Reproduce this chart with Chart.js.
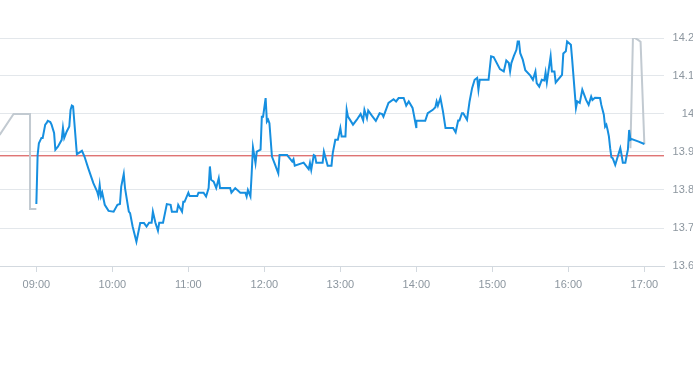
<!DOCTYPE html>
<html>
<head>
<meta charset="utf-8">
<script src="https://cdn.jsdelivr.net/npm/chart.js@4/dist/chart.umd.min.js"></script>
<style>
  html, body { margin: 0; padding: 0; background: #fff; overflow: hidden; }
  #wrap { position: relative; width: 700px; height: 296px; }
</style>
</head>
<body>
<div id="wrap"><canvas id="chart"></canvas></div>
<script>
// pre-market (grey)
const preTimes = ["08:31", "08:42", "08:55", "08:55", "09:00"];
const prePrices = [13.945, 14.0, 14.0, 13.75, 13.75];

// regular session (blue)
const times = [
  "09:00","09:01","09:02","09:04","09:05","09:07","09:08","09:09","09:11","09:12",
  "09:14","09:15","09:17","09:20","09:21","09:22","09:24","09:26","09:27","09:28",
  "09:29","09:32","09:36","09:38","09:41","09:45","09:48","09:49","09:50","09:51",
  "09:52","09:54","09:57","10:01","10:04","10:06","10:07","10:09","10:10","10:13",
  "10:14","10:16","10:19","10:22","10:25","10:27","10:29","10:31","10:32","10:34",
  "10:36","10:37","10:40","10:43","10:46","10:47","10:51","10:52","10:55","10:56",
  "10:57","11:00","11:01","11:07","11:08","11:12","11:14","11:16","11:17","11:18",
  "11:20","11:22","11:24","11:25","11:33","11:34","11:37","11:41","11:45","11:46",
  "11:47","11:49","11:50","11:51","11:53","11:54","11:57","11:58","11:59","12:01",
  "12:02","12:03","12:04","12:06","12:08","12:11","12:12","12:18","12:22","12:23",
  "12:24","12:31","12:35","12:36","12:37","12:39","12:40","12:41","12:46","12:47",
  "12:50","12:53","12:54","12:56","12:58","13:00","13:01","13:04","13:05","13:06",
  "13:10","13:13","13:16","13:18","13:19","13:21","13:22","13:25","13:28","13:31",
  "13:33","13:34","13:38","13:42","13:44","13:46","13:50","13:52","13:54","13:57",
  "14:00","14:00","14:07","14:09","14:13","14:15","14:16","14:17","14:19","14:21",
  "14:23","14:29","14:31","14:33","14:34","14:36","14:37","14:40","14:42","14:44",
  "14:46","14:48","14:49","14:50","14:57","14:59","15:01","15:06","15:09","15:11",
  "15:13","15:14","15:15","15:17","15:19","15:20","15:21","15:22","15:24","15:26",
  "15:30","15:32","15:34","15:35","15:37","15:39","15:41","15:42","15:43","15:46",
  "15:47","15:49","15:50","15:55","15:56","15:58","15:59","16:02","16:03","16:06",
  "16:07","16:09","16:11","16:14","16:16","16:18","16:19","16:21","16:25","16:26",
  "16:28","16:29","16:30","16:31","16:32","16:33","16:34","16:35","16:37","16:38",
  "16:39","16:41","16:42","16:43","16:45","16:46","16:47","16:48","16:49","16:50",
  "16:55","17:00"
];
const prices = [
  13.763,13.892,13.923,13.937,13.937,13.972,13.976,13.982,13.979,13.972,
  13.950,13.906,13.914,13.932,13.963,13.937,13.954,13.967,14.011,14.022,
  14.020,13.894,13.903,13.888,13.857,13.818,13.796,13.784,13.813,13.783,
  13.793,13.761,13.745,13.743,13.761,13.763,13.809,13.842,13.805,13.743,
  13.739,13.704,13.664,13.713,13.713,13.704,13.714,13.714,13.743,13.714,
  13.693,13.714,13.714,13.763,13.761,13.743,13.743,13.761,13.743,13.769,
  13.769,13.793,13.784,13.784,13.793,13.793,13.783,13.805,13.862,13.827,
  13.822,13.805,13.831,13.805,13.805,13.793,13.805,13.793,13.793,13.783,
  13.800,13.783,13.844,13.912,13.871,13.901,13.906,13.993,13.993,14.042,
  13.980,13.985,13.976,13.888,13.871,13.844,13.892,13.892,13.875,13.881,
  13.864,13.872,13.855,13.871,13.853,13.892,13.890,13.872,13.872,13.901,
  13.864,13.864,13.897,13.932,13.932,13.963,13.941,13.941,14.011,13.993,
  13.972,13.985,14.000,13.983,14.011,13.989,14.009,13.995,13.982,14.002,
  14.000,13.993,14.029,14.039,14.033,14.042,14.042,14.022,14.033,14.016,
  13.963,13.982,13.982,14.002,14.011,14.018,14.033,14.022,14.042,14.007,
  13.963,13.963,13.952,13.983,13.983,14.002,14.002,13.985,14.033,14.068,
  14.090,14.095,14.064,14.090,14.090,14.152,14.150,14.118,14.112,14.141,
  14.134,14.112,14.134,14.153,14.169,14.191,14.191,14.160,14.143,14.115,
  14.101,14.090,14.112,14.081,14.072,14.090,14.088,14.109,14.083,14.152,
  14.112,14.112,14.083,14.103,14.159,14.165,14.191,14.182,14.143,14.016,
  14.033,14.029,14.064,14.037,14.024,14.046,14.037,14.043,14.042,14.024,
  13.998,13.967,13.972,13.958,13.941,13.910,13.886,13.884,13.866,13.877,
  13.888,13.910,13.892,13.872,13.872,13.890,13.906,13.958,13.932,13.934,
  13.928,13.921
];

// after-hours (grey)
const postTimes = ["16:49", "16:51", "16:55", "16:57", "17:00"];
const postPrices = [13.91, 14.203, 14.195, 14.19, 13.92];

const prevClose = 13.89;

const hourTicks = ["09:00","10:00","11:00","12:00","13:00","14:00","15:00","16:00","17:00"];
const priceTicks = [13.6, 13.7, 13.8, 13.9, 14.0, 14.1, 14.2];

const xMin = 511.3;   // ~08:31
const xMax = 1035.5;  // ~17:15

function toMin(s) {
  const [h, m] = s.split(":").map(Number);
  return h * 60 + m;
}
function fmtMin(v) {
  const h = Math.floor(v / 60), m = Math.round(v % 60);
  return String(h).padStart(2, "0") + ":" + String(m).padStart(2, "0");
}
function pts(ts, ps) {
  return ts.map((t, i) => ({ x: toMin(t), y: ps[i] }));
}

const tickFont = { family: "'Liberation Sans', Arial, sans-serif", size: 11 };
const tickColor = "#8c969f";

new Chart(document.getElementById("chart"), {
  type: "line",
  data: {
    datasets: [
      {
        data: pts(times, prices),
        borderColor: "#168fe0",
        borderWidth: 2,
        pointRadius: 0,
        tension: 0,
        order: 0
      },
      {
        data: pts(preTimes, prePrices),
        borderColor: "#c2cad1",
        borderWidth: 2,
        pointRadius: 0,
        tension: 0,
        order: 1
      },
      {
        data: pts(postTimes, postPrices),
        borderColor: "#c2cad1",
        borderWidth: 2,
        pointRadius: 0,
        tension: 0,
        order: 1
      },
      {
        data: [{ x: xMin, y: prevClose }, { x: xMax, y: prevClose }],
        borderColor: "#d23c3c",
        borderWidth: 1,
        pointRadius: 0,
        order: 2
      }
    ]
  },
  options: {
    responsive: true,
    maintainAspectRatio: false,
    animation: false,
    layout: { padding: { top: 38, left: 0, right: 6, bottom: 0 } },
    plugins: { legend: { display: false }, tooltip: { enabled: false } },
    scales: {
      x: {
        type: "linear",
        min: xMin,
        max: xMax,
        afterBuildTicks: (s) => { s.ticks = hourTicks.map(h => ({ value: toMin(h) })); },
        afterFit: (s) => { s.height = 30; },
        ticks: {
          callback: (v) => fmtMin(v),
          font: tickFont,
          color: tickColor,
          padding: 6,
          maxRotation: 0,
          autoSkip: false
        },
        grid: { drawOnChartArea: false, tickLength: 6, color: "#d3d9df" },
        border: { color: "#d3d9df" }
      },
      y: {
        position: "right",
        min: 13.6,
        max: 14.2,
        afterBuildTicks: (s) => { s.ticks = priceTicks.map(v => ({ value: v })); },
        afterFit: (s) => { s.width = 30; },
        ticks: {
          callback: (v) => String(Math.round(v * 10) / 10),
          font: tickFont,
          color: tickColor,
          crossAlign: "far",
          padding: 3
        },
        grid: { color: "#e3e7eb", drawTicks: false },
        border: { display: false }
      }
    }
  }
});
</script>
</body>
</html>
